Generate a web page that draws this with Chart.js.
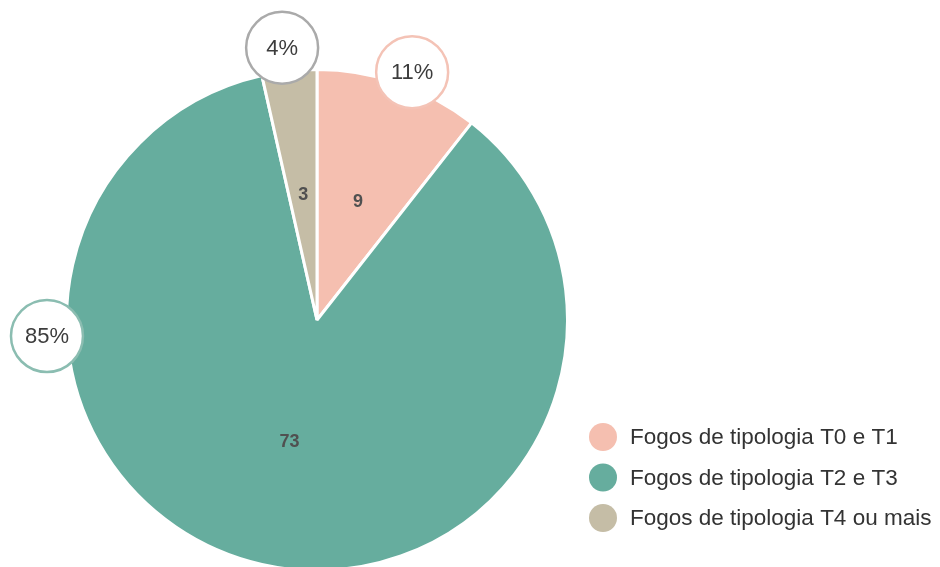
<!DOCTYPE html>
<html>
<head>
<meta charset="utf-8">
<script src="https://cdn.jsdelivr.net/npm/chart.js@4.4.0/dist/chart.umd.min.js"></script>
<style>
  html, body { margin: 0; padding: 0; background: #fff; }
  #wrap { width: 940px; height: 567px; overflow: hidden; position: relative; }
  canvas { display: block; }
</style>
</head>
<body>
<div id="wrap"><canvas id="pie" width="940" height="580"></canvas></div>
<script>
// Dados do gráfico
const categorias = ['Fogos de tipologia T0 e T1', 'Fogos de tipologia T2 e T3', 'Fogos de tipologia T4 ou mais'];
const valores = [9, 73, 3];
const percentagens = ['11%', '85%', '4%'];
const cores = ['#f5bfb0', '#66ad9e', '#c5bda6'];
const coresContorno = ['#f4c3b6', '#8bbdb1', '#aaaaaa'];
// ângulo (graus, a partir do topo, sentido horário) e afastamento de cada círculo exterior
const anguloEtiqueta = [21, 266.6, 352.7];
const afastamentoEtiqueta = [15, 20, 24];

const FONTE = '"Liberation Sans", Arial, sans-serif';

// --- Plugin para etiquetas, círculos e legenda ---
const etiquetasPlugin = {
    id: 'etiquetas',
    afterDatasetsDraw(chart) {
        const ctx = chart.ctx;
        const meta = chart.getDatasetMeta(0);
        ctx.save();
        meta.data.forEach((arc, i) => {
            const { x, y, startAngle, endAngle, outerRadius } = arc.getProps(['x', 'y', 'startAngle', 'endAngle', 'outerRadius'], true);
            const mid = (startAngle + endAngle) / 2;

            // valor dentro da fatia
            ctx.fillStyle = '#505050';
            ctx.font = 'bold 18px ' + FONTE;
            ctx.textAlign = 'center';
            ctx.textBaseline = 'middle';
            const rIn = outerRadius * 0.5;
            ctx.fillText(valores[i], x + Math.cos(mid) * rIn, y + Math.sin(mid) * rIn);

            // círculo com percentagem
            const ang = (anguloEtiqueta[i] - 90) * Math.PI / 180;
            const rOut = outerRadius + afastamentoEtiqueta[i];
            const cx = x + Math.cos(ang) * rOut;
            const cy = y + Math.sin(ang) * rOut;
            ctx.beginPath();
            ctx.arc(cx, cy, 36, 0, Math.PI * 2);
            ctx.fillStyle = '#fff';
            ctx.fill();
            ctx.lineWidth = 2.5;
            ctx.strokeStyle = coresContorno[i];
            ctx.stroke();
            ctx.fillStyle = '#3c3c3c';
            ctx.font = '22px ' + FONTE;
            ctx.fillText(percentagens[i], cx, cy + 1);
        });

        // legenda
        categorias.forEach((cat, i) => {
            const ly = 437 + i * 40.5;
            ctx.beginPath();
            ctx.arc(603, ly, 14, 0, Math.PI * 2);
            ctx.fillStyle = cores[i];
            ctx.fill();
            ctx.fillStyle = '#333';
            ctx.font = '22.5px ' + FONTE;
            ctx.textAlign = 'left';
            ctx.textBaseline = 'middle';
            ctx.fillText(cat, 630, ly + 1);
        });
        ctx.restore();
    }
};

new Chart(document.getElementById('pie').getContext('2d'), {
    type: 'pie',
    data: {
        labels: categorias,
        datasets: [{
            data: valores,
            backgroundColor: cores,
            borderColor: '#fff',
            borderWidth: 3
        }]
    },
    options: {
        responsive: false,
        animation: false,
        layout: { padding: { top: 68, bottom: 8, left: 65, right: 371 } },
        plugins: {
            legend: { display: false },
            tooltip: { enabled: false }
        }
    },
    plugins: [etiquetasPlugin]
});
</script>
</body>
</html>
